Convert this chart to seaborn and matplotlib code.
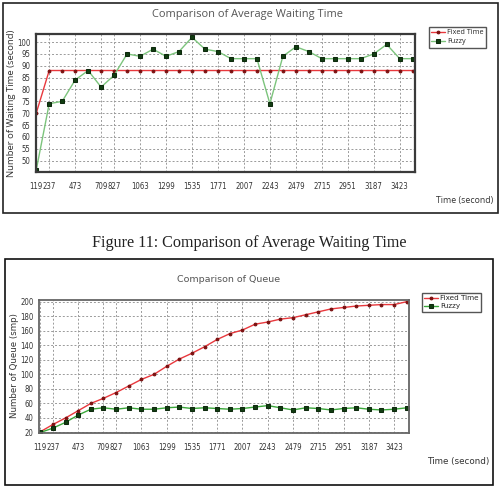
import matplotlib
matplotlib.use('Agg')
import matplotlib.pyplot as plt
from matplotlib.patches import Rectangle
from matplotlib.ticker import FixedLocator
import numpy as np
import pandas as pd
import seaborn as sns

# simulation time (second), one sample every 118 s
time_s = [119, 237, 355, 473, 591, 709, 827, 945, 1063, 1181, 1299, 1417, 1535,
          1653, 1771, 1889, 2007, 2125, 2243, 2361, 2479, 2597, 2715, 2833, 2951,
          3069, 3187, 3305, 3423, 3541]
tick_labels = [119, 237, 473, 709, 827, 1063, 1299, 1535, 1771, 2007, 2243,
               2479, 2715, 2951, 3187, 3423]

# average waiting time (second)
wait_fixed = [70] + [88] * 29
wait_fuzzy = [46, 74, 75, 84, 88, 81, 86, 95, 94, 97, 94, 96, 102, 97, 96, 93,
              93, 93, 74, 94, 98, 96, 93, 93, 93, 93, 95, 99, 93, 93]

# queue length (smp)
queue_fixed = [21, 31, 40, 50, 60, 67, 75, 84, 93, 100, 111, 121, 129, 138, 148,
               156, 161, 169, 172, 176, 178, 182, 186, 190, 192, 194, 195, 196,
               196, 200]
queue_fuzzy = [20, 26, 34, 44, 52, 54, 52, 54, 52, 52, 54, 55, 53, 54, 53, 52,
               53, 55, 57, 54, 51, 54, 53, 51, 53, 54, 52, 51, 52, 54]

W, H = 503, 498
sns.set_style('white')
plt.rcParams['font.family'] = ['DejaVu Sans']

fig = plt.figure(figsize=(W / 100, H / 100), dpi=100)


def px_axes(left, top, right, bottom):
    return fig.add_axes([left / W, 1 - bottom / H, (right - left) / W, (bottom - top) / H])


def draw_chart(ax, fixed, fuzzy, xlim, ylim, yticks, minor_ticks, ylabel, title,
               title_xy, title_size, legend_xy, xlabel_xy, ylabel_xy, ylabel_size,
               fuzzy_color, font, spine_color, spine_w):
    df = pd.DataFrame({'time': time_s * 2,
                       'value': fixed + fuzzy,
                       'series': ['Fixed Time'] * len(fixed) + ['Fuzzy'] * len(fuzzy)})
    sns.lineplot(data=df[df.series == 'Fixed Time'], x='time', y='value', ax=ax,
                 color='#e8383d', lw=1.0, marker='o', ms=2.0, mfc='#7a1010',
                 mec='#7a1010', label='Fixed Time')
    sns.lineplot(data=df[df.series == 'Fuzzy'], x='time', y='value', ax=ax,
                 color=fuzzy_color, lw=1.0, marker='s', ms=2.8, mfc='#123d12',
                 mec='#0d2a0d', label='Fuzzy')
    ax.set_xlim(*xlim)
    ax.set_ylim(*ylim)
    ax.xaxis.set_major_locator(FixedLocator(tick_labels))
    ax.xaxis.set_minor_locator(FixedLocator(minor_ticks))
    ax.set_xticklabels([str(t) for t in tick_labels])
    ax.set_yticks(yticks)
    ax.tick_params(axis='both', which='major', labelsize=5.6, length=2,
                   colors='#333333', pad=2, width=0.6)
    ax.tick_params(axis='x', which='minor', length=2, width=0.6, color='#444444')
    ax.tick_params(axis='x', which='major', pad=5)
    for lab in ax.get_xticklabels() + ax.get_yticklabels():
        lab.set_family('DejaVu Sans')
        lab.set_stretch('condensed')
    ax.grid(True, which='major', ls=(0, (2, 2)), color='#9a9a9a', lw=0.7)
    for s in ax.spines.values():
        s.set_color(spine_color)
        s.set_linewidth(spine_w)
    ax.set_xlabel('')
    ax.set_ylabel('')
    fig.text(ylabel_xy[0] / W, 1 - ylabel_xy[1] / H, ylabel, rotation=90,
             ha='center', va='center', fontsize=ylabel_size, color='#333333', family=font)
    fig.text(xlabel_xy[0] / W, 1 - xlabel_xy[1] / H, 'Time (second)',
             ha='center', va='center', fontsize=6.3, color='#333333', family=font)
    fig.text(title_xy[0] / W, 1 - title_xy[1] / H, title, ha='center', va='center',
             fontsize=title_size, color='#555555', family=font)
    ax.legend(loc='upper left', bbox_to_anchor=(legend_xy[0] / W, 1 - legend_xy[1] / H),
              bbox_transform=fig.transFigure, borderaxespad=0,
              fancybox=False, framealpha=1, edgecolor='#555555', handlelength=1.9,
              handletextpad=0.3, borderpad=0.3, labelspacing=0.3,
              prop={'family': font, 'size': 5.2})


ax1 = px_axes(36, 34, 415, 172)
ax2 = px_axes(39, 300, 409, 433)

draw_chart(ax1, wait_fixed, wait_fuzzy, (117, 3562), (45.2, 103.4),
           list(range(50, 101, 5)), time_s,
           'Number of Waiting Time (second)', 'Comparison of Average Waiting Time',
           (247, 15), 7.9, (429, 27), (465, 200), (12, 103), 6.8, '#7cc47c',
           'Open Sans', '#3a3a3a', 1.6)
queue_minor = [t + 118 * k / 3 for t in time_s for k in range(3)]
draw_chart(ax2, queue_fixed, queue_fuzzy, (107, 3562), (19.3, 202.3),
           list(range(20, 201, 20)), queue_minor,
           'Number of Queue (smp)', 'Comparison of Queue',
           (229, 280), 6.8, (422, 293), (458, 461), (15, 366), 6.2, '#3aa83a',
           'DejaVu Sans', '#666666', 1.3)

# chart frames and the caption between them
fig.patches.append(Rectangle((3 / W, 1 - 213 / H), 495 / W, 210 / H, fill=False,
                             ec='#222222', lw=1.2, transform=fig.transFigure))
fig.patches.append(Rectangle((5 / W, 1 - 485 / H), 488 / W, 226 / H, fill=False,
                             ec='#111111', lw=1.2, transform=fig.transFigure))
fig.text(249 / W, 1 - 243 / H, 'Figure 11: Comparison of Average Waiting Time',
         ha='center', va='center', fontsize=11.6, family='Liberation Serif',
         color='#222222')

fig.savefig('out.png', dpi=100)
